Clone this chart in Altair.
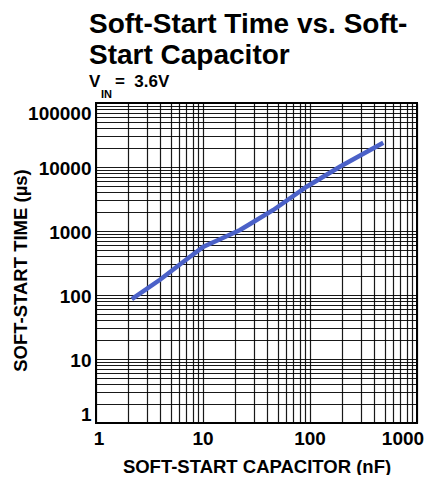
import altair as alt
import pandas as pd

# ---- data ----
cap_nf = [2.16, 3.96, 7.04, 10.1, 14.4, 22.2, 27.5, 45.4, 93, 190, 484]
time_us = [86, 173, 361, 569, 742, 1037, 1286, 2130, 4920, 10100, 24000]

x_grid = [m * 10 ** k for k in range(3) for m in range(1, 10)] + [1000]
y_grid = [m * 10 ** k for k in range(5) for m in range(1, 10)] + [100000]
x_first = [1]
x_middle = [10, 100]
x_last = [1000]
y_major = [1, 10, 100, 1000, 10000, 100000]

title_lines = ["Soft-Start Time vs. Soft-", "Start Capacitor"]
sub_main = "V"
sub_script = "IN"
sub_rest = "=\u00a0\u00a03.6V"
x_title = "SOFT-START CAPACITOR (nF)"
y_title = "SOFT-START TIME (\u00b5s)"

FONT = "Liberation Sans"
LABEL_SIZE = 19
W, H = 321, 320
df = pd.DataFrame({"cap": cap_nf, "time": time_us})

x_scale = alt.Scale(type="log", domain=[1, 1000], nice=False)
y_scale = alt.Scale(type="log", domain=[1, 100000], nice=False)

common = dict(
    grid=True, gridColor="#000000", gridWidth=1.2, gridOpacity=0.9,
    ticks=False, domain=False,
    labelFont=FONT, labelFontSize=LABEL_SIZE, labelFontWeight="bold", labelColor="#000000",
    labelOverlap=False,
    titleFont=FONT, titleFontSize=18.5, titleFontWeight="bold", titleColor="#000000",
)

x_axis = alt.Axis(values=x_grid, labels=False, title=x_title, titlePadding=34, **common)
y_axis = alt.Axis(
    values=y_grid,
    labelExpr="indexof(%s, datum.value) >= 0 ? format(datum.value, 'd') : ''" % str(y_major),
    labelPadding=5, labelFlush=True, labelOffset=1,
    title=y_title, titleX=-70, titleY=167, titleBaseline="alphabetic", **common,
)

line = alt.Chart(df).mark_line(color="#4b61c8", strokeWidth=4.5, strokeCap="butt").encode(
    x=alt.X("cap:Q", scale=x_scale, axis=x_axis),
    y=alt.Y("time:Q", scale=y_scale, axis=y_axis),
)

def xlabels(values, dx):
    return alt.Chart(pd.DataFrame({"v": values})).mark_text(
        font=FONT, fontSize=LABEL_SIZE, fontWeight="bold", align="center",
        baseline="top", color="#000000", dx=dx,
    ).encode(x=alt.X("v:Q", scale=x_scale), y=alt.value(H + 7), text=alt.Text("v:Q", format="d"))

def label(text, x, y, size):
    return alt.Chart(pd.DataFrame({"t": [text]})).mark_text(
        font=FONT, fontSize=size, fontWeight="bold", align="left",
        baseline="alphabetic", color="#000000",
    ).encode(text="t:N", x=alt.value(x), y=alt.value(y))

texts = [
    xlabels(x_first, 3),
    xlabels(x_middle, 0),
    xlabels(x_last, -14),
    label(title_lines[0], -7, -70, 28),
    label(title_lines[1], -7, -39, 28),
    label(sub_main, -7, -16, 17),
    label(sub_script, 5, -5, 11),
    label(sub_rest, 19, -16, 17),
]

chart = alt.layer(line, *texts).properties(
    width=W, height=H,
    background="white",
    autosize=alt.AutoSizeParams(type="none"),
    padding={"left": 88, "top": 95, "right": 19, "bottom": 52},
).configure_view(stroke="#000000", strokeWidth=2)

chart.save("out.html", embed_options={"renderer": "svg", "actions": False})
